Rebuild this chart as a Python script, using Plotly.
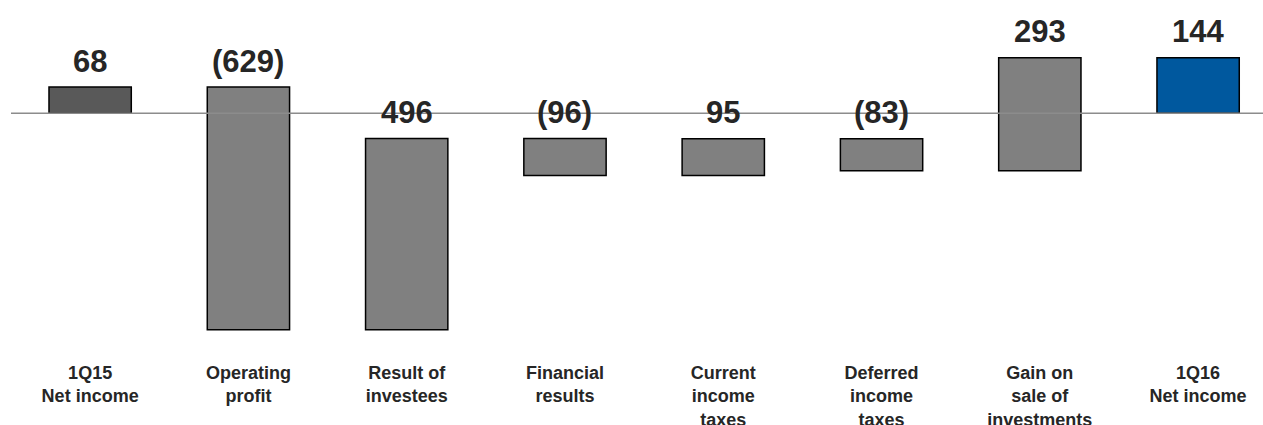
import plotly.graph_objects as go

categories = ["1Q15<br>Net income", "Operating<br>profit", "Result of<br>investees",
              "Financial<br>results", "Current<br>income<br>taxes", "Deferred<br>income<br>taxes",
              "Gain on<br>sale of<br>investments", "1Q16<br>Net income"]
values = [68, -629, 496, -96, 95, -83, 293, 144]
measures = ["absolute", "relative", "relative", "relative", "relative", "relative", "relative", "total"]
value_labels = ["68", "(629)", "496", "(96)", "95", "(83)", "293", "144"]
colors = ["#595959", "#808080", "#808080", "#808080", "#808080", "#808080", "#808080", "#00589E"]

# compute waterfall bases / heights
bases, heights, tops = [], [], []
running = 0
for v, m in zip(values, measures):
    if m == "absolute":
        b, h = 0, v
        running = v
    elif m == "total":
        b, h = 0, running
    else:
        b, h = running, v
        running += v
    bases.append(b)
    heights.append(h)
    tops.append(max(b, b + h))

x = list(range(len(categories)))

fig = go.Figure()
fig.add_trace(go.Bar(
    x=x, y=heights, base=bases,
    marker=dict(color=colors, line=dict(color="#000000", width=1.5)),
    width=0.52, hoverinfo="skip",
))

for xi, t, lab in zip(x, tops, value_labels):
    fig.add_annotation(x=xi, y=t, text="<b>%s</b>" % lab, showarrow=False,
                       yanchor="middle", yshift=26,
                       font=dict(family="Liberation Sans, Arial", size=31, color="#262626"))

fig.add_shape(type="line", xref="paper", yref="y", x0=0, x1=1, y0=0, y1=0,
              line=dict(color="#8C8C8C", width=1.5), layer="above")

fig.update_layout(
    width=1263, height=425,
    margin=dict(l=11, r=0, t=0, b=75),
    plot_bgcolor="white", paper_bgcolor="white",
    showlegend=False,
    xaxis=dict(range=[-0.5, 7.41], tickmode="array", tickvals=x,
               ticktext=["<b>%s</b>" % c for c in categories],
               showgrid=False, zeroline=False, showline=False, ticks="",
               ticklabelstandoff=10, automargin=False,
               tickfont=dict(family="Liberation Sans, Arial", size=18, color="#262626")),
    yaxis=dict(range=[-613.2, 293.5], visible=False, showgrid=False, zeroline=False,
               automargin=False),
)

fig.write_html("out.html")
